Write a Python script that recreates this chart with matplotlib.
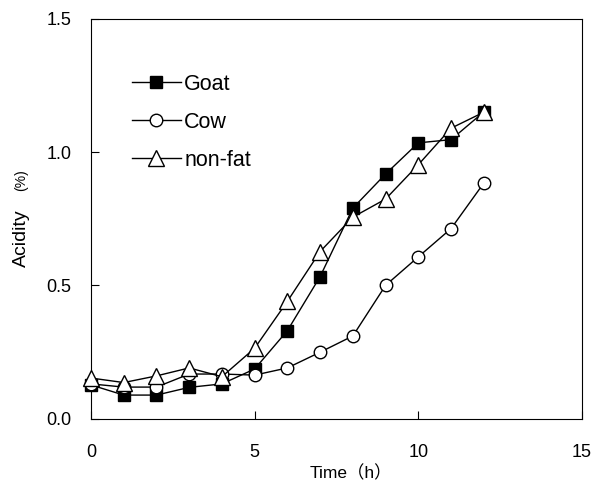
import matplotlib
matplotlib.use("Agg")
import matplotlib.pyplot as plt

plt.rcParams['font.family'] = ['Liberation Sans', 'Noto Sans CJK JP', 'DejaVu Sans']

hours = [0, 1, 2, 3, 4, 5, 6, 7, 8, 9, 10, 11, 12]
goat = [0.126, 0.088, 0.088, 0.117, 0.13, 0.186, 0.33, 0.533, 0.79, 0.918, 1.035, 1.047, 1.151]
cow = [0.13, 0.118, 0.118, 0.167, 0.167, 0.163, 0.19, 0.249, 0.31, 0.50, 0.607, 0.713, 0.884]
nonfat = [0.152, 0.135, 0.16, 0.19, 0.157, 0.264, 0.44, 0.627, 0.756, 0.824, 0.953, 1.09, 1.15]

x_ticks = [0, 5, 10, 15]
y_ticks = [0.0, 0.5, 1.0, 1.5]

fig = plt.figure(figsize=(5.94, 4.83), dpi=100)
ax = fig.add_axes([0.1532, 0.1335, 0.8266, 0.8272])

ax.plot(hours, goat, color='black', lw=1, marker='s', ms=9,
        mfc='black', mec='black', label='Goat', zorder=3, clip_on=False)
ax.plot(hours, cow, color='black', lw=1, marker='o', ms=9,
        mfc='white', mec='black', label='Cow', zorder=3, clip_on=False)
ax.plot(hours, nonfat, color='black', lw=1, marker='^', ms=11,
        mfc='white', mec='black', label='non-fat', zorder=4, clip_on=False)

ax.set_xlim(0, 15)
ax.set_ylim(0, 1.5)
ax.set_xticks(x_ticks)
ax.set_yticks(y_ticks)
ax.set_yticklabels([f'{v:.1f}' for v in y_ticks])
ax.tick_params(direction='in', length=6, width=0.8, labelsize=13)
ax.tick_params(axis='x', pad=18)
ax.tick_params(axis='y', pad=14)

for s in ax.spines.values():
    s.set_linewidth(0.8)

ax.set_xlabel('Time（h）', fontsize=12.5)
ax.xaxis.label.set_va('center')
ax.xaxis.set_label_coords(0.53, -0.137)

# y label: "Acidity" plus a smaller "(%)" above it
ax.set_ylabel('Acidity', fontsize=14)
ax.yaxis.label.set_va('center')
ax.yaxis.set_label_coords(-0.1426, 0.4518)
ax.text(-0.1426, 0.597, '(%)', transform=ax.transAxes, rotation=90,
        fontsize=10, ha='center', va='center')

ax.legend(loc='upper left', bbox_to_anchor=(0.065, 0.885), frameon=False,
          fontsize=15.5, handlelength=2.3, handletextpad=0.15, labelspacing=0.8,
          borderaxespad=0)

fig.savefig('out.png', dpi=100)
